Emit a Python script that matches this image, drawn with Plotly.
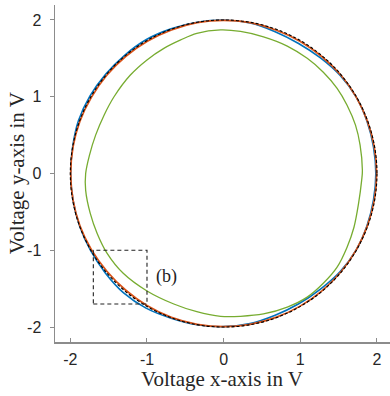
import numpy as np
import plotly.graph_objects as go

# ---- data ----
angles_deg = [0, 10, 20, 30, 40, 50, 60, 70, 80, 90, 100, 110, 120, 130, 140, 150, 160, 170,
              180, 190, 200, 210, 220, 230, 240, 250, 260, 270, 280, 290, 300, 310, 320, 330, 340, 350]
blue_r = [1.985, 1.985, 1.99, 1.995, 1.985, 1.965, 1.955, 1.965, 1.99, 2.0, 2.0, 2.005, 2.015, 2.01,
          2.01, 2.015, 2.015, 2.0, 1.995, 1.995, 2.0, 2.005, 2.015, 2.03, 2.025, 2.005, 2.0, 1.995,
          1.985, 1.965, 1.96, 1.965, 1.985, 1.995, 1.99, 1.985]
orange_r = [1.995, 1.995, 1.995, 1.995, 1.995, 1.99, 1.99, 1.99, 1.995, 1.995, 1.995, 1.99, 1.99,
            1.99, 1.99, 1.99, 1.995, 1.995, 1.995, 1.995, 1.995, 1.99, 1.985, 1.985, 1.99, 1.995,
            1.995, 1.995, 1.995, 1.995, 1.995, 1.995, 1.995, 1.995, 1.995, 1.995]
green_x = [1.81, 1.78, 1.72, 1.61, 1.48, 1.30, 1.09, 0.83, 0.52, 0.22, -0.04, -0.35, -0.56, -0.78,
           -1.0, -1.22, -1.43, -1.56, -1.67, -1.75, -1.80, -1.80, -1.74, -1.65, -1.52, -1.31, -1.0,
           -0.65, -0.35, -0.04, 0.22, 0.52, 0.83, 1.09, 1.30, 1.48, 1.61, 1.70, 1.76, 1.80, 1.81]
green_y = [0.04, 0.37, 0.63, 0.89, 1.11, 1.32, 1.50, 1.66, 1.78, 1.85, 1.87, 1.825, 1.74, 1.63,
           1.48, 1.28, 1.0, 0.76, 0.50, 0.24, 0.0, -0.22, -0.52, -0.78, -1.04, -1.30, -1.53,
           -1.70, -1.80, -1.86, -1.86, -1.83, -1.74, -1.61, -1.43, -1.22, -0.96, -0.70, -0.39, -0.09, 0.04]
ref_radius = 2.0
box_x = [-1.7, -1.0]
box_y = [-1.7, -1.0]
box_label = "(b)"
label_pos = [-0.75, -1.34]
tick_vals = [-2, -1, 0, 1, 2]
x_title = "Voltage x-axis in V"
y_title = "Voltage y-axis in V"

# ---- figure ----
th = np.deg2rad(angles_deg + [angles_deg[0]])
br = np.array(blue_r + [blue_r[0]])
orr = np.array(orange_r + [orange_r[0]])

fig = go.Figure()
fig.add_trace(go.Scatter(x=br * np.cos(th), y=br * np.sin(th), mode="lines",
                         line=dict(color="#0072BD", width=1.6, shape="spline", smoothing=1.0),
                         hoverinfo="skip"))
fig.add_trace(go.Scatter(x=orr * np.cos(th), y=orr * np.sin(th), mode="lines",
                         line=dict(color="#D95319", width=1.7, shape="spline", smoothing=1.0),
                         hoverinfo="skip"))
fig.add_trace(go.Scatter(x=green_x, y=green_y, mode="lines",
                         line=dict(color="#77AC30", width=1.3, shape="spline", smoothing=1.0),
                         hoverinfo="skip"))

fig.add_shape(type="circle", xref="x", yref="y", x0=-ref_radius, y0=-ref_radius,
              x1=ref_radius, y1=ref_radius, line=dict(color="black", width=1.1, dash="3px,2px"),
              layer="above")
fig.add_shape(type="rect", xref="x", yref="y", x0=box_x[0], x1=box_x[1], y0=box_y[0], y1=box_y[1],
              line=dict(color="#222222", width=1.1, dash="4px,3px"), layer="above")
fig.add_annotation(x=label_pos[0], y=label_pos[1], text=box_label, showarrow=False,
                   font=dict(family="Liberation Serif", size=18, color="#222222"))

fig.add_annotation(xref="paper", yref="paper", x=0.4985, y=-0.11, text=x_title, showarrow=False,
                   xanchor="center", yanchor="middle",
                   font=dict(family="Liberation Serif", size=21, color="#262626"))
fig.add_annotation(xref="paper", yref="paper", x=-0.113, y=0.5015, text=y_title, showarrow=False,
                   xanchor="center", yanchor="middle", textangle=-90,
                   font=dict(family="Liberation Serif", size=21, color="#262626"))

axis_common = dict(showgrid=False, zeroline=False, showline=True, linecolor="#8c8c8c",
                   linewidth=1.5, tickcolor="#8c8c8c", ticklen=4, tickwidth=1, automargin=False,
                   tickvals=tick_vals, ticktext=[str(v) for v in tick_vals],
                   tickfont=dict(family="Liberation Sans", size=16, color="#262626"))
fig.update_layout(
    width=390, height=396,
    margin=dict(l=55, r=0, t=5, b=54),
    plot_bgcolor="white", paper_bgcolor="white",
    showlegend=False,
    xaxis=dict(range=[-2.2, 2.17], ticks="inside", ticklabelstandoff=2, **axis_common),
    yaxis=dict(range=[-2.195, 2.195], ticks="outside", ticklabelstandoff=5, **axis_common),
)
fig.write_html("out.html", config={"displayModeBar": False, "staticPlot": True},
               post_script="document.body.style.margin='0px';"
                           "document.body.style.overflow='hidden';")
